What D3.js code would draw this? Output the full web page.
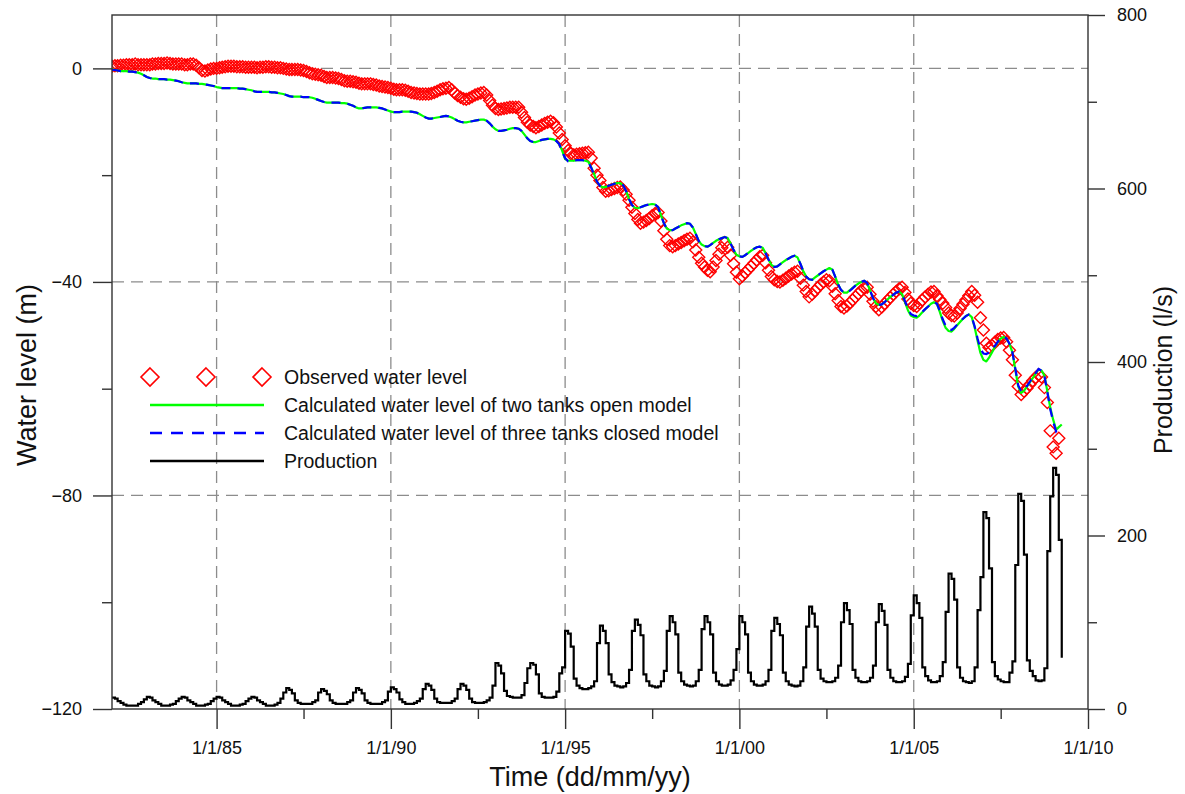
<!DOCTYPE html>
<html>
<head>
<meta charset="utf-8">
<script src="https://cdn.jsdelivr.net/npm/d3@7"></script>
<style>
  body { margin: 0; background: #fff; }
  svg { display: block; }
  text { font-family: "Liberation Sans", Arial, sans-serif; fill: #111; }
</style>
</head>
<body>
<svg id="chart" width="1185" height="794"></svg>
<script>
// Monthly records, first value = January 1982
const firstYear = 1982;

// Observed water level (m), monthly
const observedLevel = [
  0.4, 0.5, 0.5, 0.6, 0.6, 0.7, 0.7, 0.7, 0.8, 0.7, 0.7, 0.7,            // 1982
  0.7, 0.7, 0.8, 0.8, 0.9, 0.9, 0.9, 1.0, 0.9, 0.8, 0.8, 0.8,            // 1983
  0.8, 0.7, 0.7, 0.8, 0.8, 0.6, 0.1, -0.4, -0.5, -0.3, -0.1, 0.0,        // 1984
  0.0, 0.1, 0.2, 0.3, 0.4, 0.4, 0.4, 0.3, 0.3, 0.3, 0.2, 0.2,            // 1985
  0.2, 0.2, 0.1, 0.2, 0.2, 0.3, 0.3, 0.2, 0.2, 0.1, 0.1, 0.0,            // 1986
  -0.1, -0.2, -0.2, -0.2, -0.2, -0.3, -0.4, -0.6, -0.8, -1.0, -1.1, -1.2, // 1987
  -1.3, -1.5, -1.7, -1.7, -1.7, -1.8, -1.9, -2.1, -2.3, -2.4, -2.4, -2.5, // 1988
  -2.6, -2.8, -2.9, -2.9, -2.9, -2.9, -3.0, -3.1, -3.3, -3.4, -3.5, -3.6, // 1989
  -3.7, -3.9, -4.0, -4.0, -4.0, -4.1, -4.3, -4.5, -4.6, -4.7, -4.8, -4.8, // 1990
  -4.8, -4.8, -4.7, -4.5, -4.3, -4.0, -3.8, -3.7, -3.6, -4.0, -4.6, -5.1, // 1991
  -5.4, -5.7, -5.8, -5.6, -5.3, -5.0, -4.8, -4.6, -4.5, -5.0, -6.0, -6.9, // 1992
  -7.5, -7.7, -7.6, -7.5, -7.4, -7.3, -7.3, -7.3, -7.3, -8.2, -9.2, -10.1, // 1993
  -10.6, -10.9, -11.1, -10.9, -10.6, -10.3, -10.1, -9.9, -10.2, -11.0, -12.1, -13.3, // 1994
  -14.5, -15.4, -16.0, -16.2, -16.1, -16.0, -15.9, -15.8, -15.7, -16.8, -18.7, -20.0, // 1995
  -21.0, -22.3, -23.0, -22.9, -22.7, -22.5, -22.3, -22.2, -22.8, -23.6, -24.7, -26.0, // 1996
  -27.2, -28.3, -29.0, -28.8, -28.5, -28.1, -27.6, -27.2, -27.0, -28.6, -30.4, -32.0, // 1997
  -33.2, -33.4, -33.2, -32.9, -32.6, -32.3, -32.0, -31.8, -32.5, -34.0, -35.4, -36.5, // 1998
  -37.2, -37.8, -38.1, -37.2, -36.0, -34.8, -33.6, -32.6, -33.5, -35.0, -36.6, -38.2, // 1999
  -39.4, -38.9, -38.3, -37.7, -37.1, -36.5, -35.9, -35.3, -35.0, -36.4, -37.8, -39.0, // 2000
  -39.6, -39.9, -40.0, -39.7, -39.3, -38.9, -38.5, -38.2, -38.0, -39.3, -40.6, -41.8, // 2001
  -42.8, -42.3, -41.7, -41.1, -40.5, -40.0, -39.6, -39.8, -40.8, -42.2, -43.5, -44.6, // 2002
  -44.9, -44.5, -44.0, -43.4, -42.8, -42.2, -41.6, -41.2, -41.0, -42.3, -43.6, -44.6, // 2003
  -45.2, -44.7, -44.1, -43.5, -42.9, -42.3, -41.8, -41.3, -41.0, -42.0, -43.2, -44.0, // 2004
  -44.4, -44.6, -44.0, -43.4, -42.8, -42.3, -41.9, -41.8, -42.6, -43.3, -44.0, -44.8, // 2005
  -45.8, -46.3, -46.4, -45.8, -45.0, -44.2, -43.4, -42.6, -41.8, -42.5, -43.8, -46.7, // 2006
  -49.0, -51.5, -52.3, -51.9, -51.3, -50.8, -50.5, -50.4, -51.2, -52.8, -54.6, -57.5, // 2007
  -59.6, -61.1, -60.5, -59.9, -59.2, -58.5, -57.9, -57.4, -57.8, -59.8, -62.6, -67.9, // 2008
  -70.9, -72.1, -69.3                                                                 // 2009
];

// Calculated water level, two tanks open model (m), monthly
const twoTankLevel = [
  -0.2, -0.3, -0.4, -0.5, -0.5, -0.5, -0.6, -0.6, -0.7, -0.8, -1.0, -1.3, // 1982
  -1.6, -1.8, -1.9, -1.9, -2.0, -2.0, -2.0, -2.1, -2.1, -2.2, -2.3, -2.4, // 1983
  -2.6, -2.7, -2.8, -2.8, -2.8, -2.8, -2.9, -2.9, -3.0, -3.1, -3.2, -3.3, // 1984
  -3.5, -3.6, -3.7, -3.7, -3.7, -3.7, -3.7, -3.7, -3.8, -3.8, -3.9, -4.0, // 1985
  -4.1, -4.3, -4.4, -4.4, -4.4, -4.4, -4.4, -4.5, -4.5, -4.6, -4.7, -4.8, // 1986
  -5.0, -5.2, -5.3, -5.3, -5.3, -5.3, -5.4, -5.4, -5.4, -5.5, -5.7, -5.9, // 1987
  -6.1, -6.3, -6.4, -6.4, -6.4, -6.4, -6.4, -6.5, -6.5, -6.6, -6.8, -7.0, // 1988
  -7.3, -7.5, -7.5, -7.4, -7.3, -7.3, -7.3, -7.3, -7.4, -7.5, -7.7, -7.9, // 1989
  -8.1, -8.2, -8.2, -8.2, -8.1, -8.1, -8.1, -8.1, -8.2, -8.3, -8.6, -8.9, // 1990
  -9.2, -9.4, -9.4, -9.3, -9.2, -9.1, -9.0, -8.9, -9.0, -9.2, -9.5, -9.8, // 1991
  -10.0, -10.1, -10.1, -10.0, -9.9, -9.8, -9.7, -9.6, -9.6, -9.8, -10.3, -10.9, // 1992
  -11.4, -11.7, -11.7, -11.6, -11.5, -11.3, -11.2, -11.2, -11.3, -11.7, -12.4, -13.1, // 1993
  -13.6, -13.8, -13.8, -13.6, -13.4, -13.3, -13.2, -13.2, -13.3, -13.6, -14.2, -15.4, // 1994
  -17.0, -17.3, -17.3, -17.3, -17.2, -17.2, -17.2, -17.3, -17.5, -18.5, -19.8, -21.2, // 1995
  -22.0, -22.3, -22.2, -22.0, -21.8, -21.6, -21.5, -21.5, -21.9, -23.0, -24.5, -25.6, // 1996
  -26.1, -26.2, -26.0, -25.8, -25.6, -25.5, -25.4, -25.5, -26.0, -27.5, -29.0, -30.0, // 1997
  -30.3, -30.3, -30.0, -29.7, -29.4, -29.2, -29.0, -29.1, -29.8, -31.0, -32.3, -33.0, // 1998
  -33.3, -33.4, -33.1, -32.7, -32.3, -32.0, -31.8, -31.6, -31.8, -32.8, -34.0, -34.9, // 1999
  -35.2, -35.3, -35.0, -34.6, -34.2, -33.8, -33.5, -33.4, -33.6, -34.6, -35.8, -36.8, // 2000
  -37.2, -37.1, -36.7, -36.3, -35.9, -35.6, -35.3, -35.1, -35.4, -36.6, -38.0, -39.0, // 2001
  -39.5, -39.6, -39.2, -38.8, -38.4, -38.0, -37.7, -37.4, -37.7, -39.0, -40.5, -41.5, // 2002
  -42.0, -42.0, -41.6, -41.1, -40.7, -40.3, -40.0, -39.8, -40.2, -41.6, -43.0, -44.0, // 2003
  -44.3, -44.2, -43.8, -43.3, -42.8, -42.4, -42.0, -41.8, -42.3, -43.8, -45.3, -46.3, // 2004
  -46.6, -46.7, -46.3, -45.7, -45.1, -44.6, -44.1, -43.8, -44.1, -45.6, -47.3, -48.6, // 2005
  -49.2, -49.3, -48.8, -48.1, -47.5, -46.9, -46.4, -46.1, -46.6, -48.5, -51.0, -53.3, // 2006
  -54.6, -54.9, -54.2, -53.2, -52.2, -51.3, -50.6, -50.3, -50.6, -51.6, -53.2, -56.4, // 2007
  -59.6, -60.8, -60.4, -59.6, -58.8, -58.0, -57.2, -56.4, -56.6, -57.5, -60.5, -63.5, // 2008
  -65.8, -67.7, -67.2, -66.7                                                          // 2009
];

// Calculated water level, three tanks closed model (m), monthly
const threeTankLevel = [
  -0.3, -0.3, -0.4, -0.5, -0.5, -0.5, -0.6, -0.6, -0.7, -0.8, -1.0, -1.3, // 1982
  -1.6, -1.8, -1.9, -1.9, -2.0, -2.0, -2.0, -2.1, -2.1, -2.2, -2.3, -2.4, // 1983
  -2.6, -2.7, -2.8, -2.8, -2.8, -2.8, -2.9, -2.9, -3.0, -3.1, -3.2, -3.3, // 1984
  -3.5, -3.6, -3.7, -3.7, -3.7, -3.7, -3.7, -3.7, -3.8, -3.8, -3.9, -4.0, // 1985
  -4.1, -4.3, -4.4, -4.4, -4.4, -4.4, -4.4, -4.5, -4.5, -4.6, -4.7, -4.8, // 1986
  -5.0, -5.2, -5.3, -5.3, -5.3, -5.3, -5.4, -5.4, -5.4, -5.5, -5.7, -5.9, // 1987
  -6.1, -6.3, -6.4, -6.4, -6.4, -6.4, -6.4, -6.5, -6.5, -6.6, -6.8, -7.0, // 1988
  -7.3, -7.5, -7.5, -7.4, -7.3, -7.3, -7.3, -7.3, -7.4, -7.5, -7.7, -7.9, // 1989
  -8.1, -8.2, -8.2, -8.2, -8.1, -8.1, -8.1, -8.1, -8.2, -8.3, -8.6, -8.9, // 1990
  -9.2, -9.4, -9.4, -9.3, -9.2, -9.1, -9.0, -8.9, -9.0, -9.2, -9.5, -9.8, // 1991
  -10.0, -10.1, -10.1, -10.0, -9.9, -9.8, -9.7, -9.6, -9.6, -9.8, -10.3, -10.9, // 1992
  -11.4, -11.7, -11.7, -11.6, -11.5, -11.3, -11.2, -11.2, -11.3, -11.7, -12.4, -13.1, // 1993
  -13.6, -13.8, -13.8, -13.6, -13.4, -13.3, -13.2, -13.2, -13.3, -13.6, -14.2, -15.6, // 1994
  -16.8, -17.4, -17.3, -17.3, -17.2, -17.2, -17.2, -17.3, -17.5, -18.6, -19.9, -21.2, // 1995
  -22.0, -22.3, -22.2, -22.0, -21.8, -21.6, -21.5, -21.5, -21.9, -23.0, -24.5, -25.6, // 1996
  -26.1, -26.2, -26.0, -25.8, -25.6, -25.5, -25.4, -25.5, -26.0, -27.5, -29.0, -30.0, // 1997
  -30.3, -30.3, -30.0, -29.7, -29.4, -29.2, -29.0, -29.1, -29.8, -31.0, -32.3, -33.0, // 1998
  -33.3, -33.4, -33.1, -32.7, -32.3, -32.0, -31.8, -31.6, -31.8, -32.8, -34.0, -34.9, // 1999
  -35.2, -35.3, -35.0, -34.6, -34.2, -33.8, -33.5, -33.4, -33.6, -34.6, -35.8, -36.8, // 2000
  -37.2, -37.1, -36.7, -36.3, -35.9, -35.6, -35.3, -35.1, -35.4, -36.6, -38.0, -39.0, // 2001
  -39.5, -39.6, -39.2, -38.8, -38.4, -38.0, -37.7, -37.4, -37.7, -39.0, -40.5, -41.5, // 2002
  -42.0, -42.1, -41.7, -41.2, -40.7, -40.3, -40.0, -39.8, -40.2, -41.6, -43.0, -44.0, // 2003
  -44.3, -44.2, -43.8, -43.3, -42.8, -42.4, -42.0, -41.8, -42.3, -43.6, -45.0, -46.0, // 2004
  -46.3, -46.4, -46.1, -45.6, -45.1, -44.6, -44.1, -43.8, -44.1, -45.4, -47.0, -48.2, // 2005
  -48.8, -49.0, -48.6, -48.0, -47.4, -46.9, -46.4, -46.1, -46.6, -48.3, -50.6, -52.6, // 2006
  -53.4, -53.5, -53.2, -52.6, -52.0, -51.2, -50.6, -50.3, -50.6, -51.6, -53.2, -56.2, // 2007
  -59.4, -60.5, -60.2, -59.5, -58.7, -57.9, -57.1, -56.3, -56.6, -57.6, -60.6, -63.8, // 2008
  -66.2, -68.0, -67.5                                                                 // 2009
];

// Production (l/s), monthly
const production = [
  13, 12, 9, 7, 5, 4, 4, 4, 4, 6, 8, 11,              // 1982
  14, 13, 10, 8, 6, 4, 4, 4, 5, 6, 9, 12,             // 1983
  14, 13, 10, 8, 6, 4, 4, 4, 5, 6, 9, 12,             // 1984
  14, 13, 10, 8, 6, 4, 4, 4, 5, 6, 9, 12,             // 1985
  14, 13, 10, 8, 6, 4, 4, 4, 5, 7, 12, 19,            // 1986
  24, 22, 18, 10, 7, 6, 6, 6, 6, 8, 10, 19,           // 1987
  23, 21, 17, 10, 7, 6, 6, 6, 6, 8, 10, 19,           // 1988
  24, 22, 18, 10, 7, 6, 6, 6, 6, 8, 10, 20,           // 1989
  25, 23, 19, 11, 8, 6, 6, 6, 7, 9, 12, 23,           // 1990
  29, 27, 22, 12, 8, 7, 7, 7, 7, 9, 12, 23,           // 1991
  29, 27, 22, 12, 8, 7, 7, 7, 8, 10, 13, 27,          // 1992
  53, 50, 41, 21, 15, 14, 13, 13, 13, 16, 30, 47,     // 1993
  53, 51, 40, 18, 14, 13, 13, 13, 14, 20, 41, 48,     // 1994
  90, 87, 72, 35, 27, 24, 23, 23, 24, 26, 32, 76,     // 1995
  96, 90, 76, 40, 31, 27, 26, 25, 26, 30, 45, 90,     // 1996
  103, 97, 85, 40, 32, 27, 26, 25, 26, 32, 44, 90,    // 1997
  107, 100, 86, 42, 32, 28, 27, 26, 27, 32, 45, 92,   // 1998
  107, 100, 86, 42, 32, 28, 27, 27, 28, 33, 45, 69,   // 1999
  107, 100, 86, 42, 32, 28, 27, 27, 28, 32, 45, 90,   // 2000
  105, 98, 85, 42, 32, 28, 27, 26, 27, 32, 48, 95,    // 2001
  118, 110, 95, 45, 35, 32, 31, 31, 32, 36, 50, 100,  // 2002
  122, 114, 98, 45, 36, 32, 31, 31, 32, 36, 50, 100,  // 2003
  121, 113, 97, 45, 36, 32, 31, 31, 32, 37, 52, 108,  // 2004
  131, 122, 105, 48, 38, 33, 31, 31, 32, 38, 54, 112, // 2005
  156, 150, 126, 48, 36, 32, 31, 30, 32, 48, 114, 152, // 2006
  227, 220, 162, 54, 38, 34, 32, 31, 31, 42, 55, 166, // 2007
  248, 240, 178, 56, 44, 38, 33, 32, 33, 47, 182, 245, // 2008
  278, 270, 195, 59                                   // 2009
];

const levelTicks = [0, -40, -80, -120];
const levelMinorTicks = [-20, -60, -100];
const levelGrid = [0, -40, -80];
const productionTicks = [0, 200, 400, 600, 800];
const productionMinorTicks = [100, 300, 500, 700];
const legendLabels = [
  "Observed water level",
  "Calculated water level of two tanks open model",
  "Calculated water level of three tanks closed model",
  "Production"
];

// ---- layout ----
const plot = { left: 112, right: 1088, top: 15, bottom: 709 };
const svg = d3.select("#chart");

const monthDate = i => new Date(firstYear, i, 1);

const x = d3.scaleTime()
  .domain([new Date(1982, 0, 1), new Date(2010, 0, 1)])
  .range([plot.left, plot.right]);
const yLevel = d3.scaleLinear().domain([-120, 10]).range([plot.bottom, plot.top]);
const yProd = d3.scaleLinear().domain([0, 800]).range([plot.bottom, plot.top]);

const majorYears = d3.timeYear.every(5).range(new Date(1985, 0, 1), new Date(2010, 0, 2));
const minorYears = majorYears.slice(0, -1).map(d => d3.timeMonth.offset(d, 30));
const gridYears = majorYears.filter(d => d < x.domain()[1]);

// ---- grid ----
const grid = svg.append("g")
  .attr("stroke", "#8c8c8c").attr("stroke-width", 1.3)
  .attr("stroke-dasharray", "12,7").attr("fill", "none");
grid.selectAll("line.h").data(levelGrid).join("line")
  .attr("x1", plot.left).attr("x2", plot.right)
  .attr("y1", d => yLevel(d)).attr("y2", d => yLevel(d));
grid.selectAll("line.v").data(gridYears).join("line")
  .attr("x1", d => x(d)).attr("x2", d => x(d))
  .attr("y1", plot.top).attr("y2", plot.bottom);

// ---- data marks ----
svg.append("clipPath").attr("id", "plotClip").append("rect")
  .attr("x", plot.left).attr("y", plot.top)
  .attr("width", plot.right - plot.left).attr("height", plot.bottom - plot.top);

const marks = svg.append("g").attr("clip-path", "url(#plotClip)");

const diamond = r => `M0,${-r}L${r},0L0,${r}L${-r},0Z`;

marks.append("g")
  .selectAll("path").data(observedLevel).join("path")
  .attr("d", diamond(6))
  .attr("transform", (d, i) => `translate(${x(monthDate(i))},${yLevel(d)})`)
  .attr("fill", "none").attr("stroke", "#ff0000").attr("stroke-width", 1.4);

const levelLine = d3.line()
  .x((d, i) => x(monthDate(i)))
  .y(d => yLevel(d));

marks.append("path").datum(twoTankLevel)
  .attr("d", levelLine)
  .attr("fill", "none").attr("stroke", "#00ff00").attr("stroke-width", 2.2)
  .attr("stroke-linejoin", "round");

marks.append("path").datum(threeTankLevel)
  .attr("d", levelLine)
  .attr("fill", "none").attr("stroke", "#0000ff").attr("stroke-width", 2.2)
  .attr("stroke-dasharray", "9,7");

const prodLine = d3.line()
  .curve(d3.curveStepAfter)
  .x((d, i) => x(monthDate(i)))
  .y(d => yProd(d));

marks.append("path").datum(production)
  .attr("d", prodLine)
  .attr("fill", "none").attr("stroke", "#000").attr("stroke-width", 2.2);

// ---- frame ----
svg.append("rect")
  .attr("x", plot.left).attr("y", plot.top)
  .attr("width", plot.right - plot.left).attr("height", plot.bottom - plot.top)
  .attr("fill", "none").attr("stroke", "#333").attr("stroke-width", 1.4);

// ---- axes ----
const tickFont = "18px";
function styleAxis(g) {
  g.select(".domain").remove();
  g.selectAll(".tick line").attr("stroke", "#333").attr("stroke-width", 1.4);
  g.selectAll(".tick text").attr("fill", "#111").style("font-size", tickFont)
    .style("font-family", '"Liberation Sans", Arial, sans-serif');
}

svg.append("g").attr("transform", `translate(${plot.left},0)`)
  .call(d3.axisLeft(yLevel).tickValues(levelTicks).tickSize(19).tickPadding(11).tickFormat(d3.format("d")))
  .call(styleAxis);
svg.append("g").attr("transform", `translate(${plot.left},0)`)
  .call(d3.axisLeft(yLevel).tickValues(levelMinorTicks).tickSize(10).tickFormat(""))
  .call(styleAxis);

svg.append("g").attr("transform", `translate(${plot.right},0)`)
  .call(d3.axisRight(yProd).tickValues(productionTicks).tickSize(17).tickPadding(12))
  .call(styleAxis);
svg.append("g").attr("transform", `translate(${plot.right},0)`)
  .call(d3.axisRight(yProd).tickValues(productionMinorTicks).tickSize(9).tickFormat(""))
  .call(styleAxis);

svg.append("g").attr("transform", `translate(0,${plot.bottom})`)
  .call(d3.axisBottom(x).tickValues(majorYears).tickSize(20).tickPadding(12)
    .tickFormat(d3.timeFormat("%-m/%-d/%y")))
  .call(styleAxis);
svg.append("g").attr("transform", `translate(0,${plot.bottom})`)
  .call(d3.axisBottom(x).tickValues(minorYears).tickSize(10).tickFormat(""))
  .call(styleAxis);

// ---- axis titles ----
svg.append("text")
  .attr("x", 590).attr("y", 786)
  .attr("text-anchor", "middle").style("font-size", "27px")
  .text("Time (dd/mm/yy)");
svg.append("text")
  .attr("transform", "translate(27,375) rotate(-90)")
  .attr("text-anchor", "middle").attr("dominant-baseline", "central").style("font-size", "27px")
  .text("Water level (m)");
svg.append("text")
  .attr("transform", "translate(1163,370) rotate(-90)")
  .attr("text-anchor", "middle").attr("dominant-baseline", "central").style("font-size", "25px")
  .text("Production (l/s)");

// ---- legend ----
const legend = svg.append("g");
const rowY = i => 377 + i * 28;
const symX0 = 150, symX1 = 264, textX = 284;

legend.selectAll("path.obs").data([150, 206, 262]).join("path")
  .attr("d", diamond(9))
  .attr("transform", d => `translate(${d},${rowY(0)})`)
  .attr("fill", "none").attr("stroke", "#ff0000").attr("stroke-width", 1.6);

const legendLines = [
  { row: 1, color: "#00ff00", dash: null },
  { row: 2, color: "#0000ff", dash: "12,9" },
  { row: 3, color: "#000", dash: null }
];
legend.selectAll("line").data(legendLines).join("line")
  .attr("x1", symX0).attr("x2", symX1)
  .attr("y1", d => rowY(d.row)).attr("y2", d => rowY(d.row))
  .attr("stroke", d => d.color).attr("stroke-width", 2.4)
  .attr("stroke-dasharray", d => d.dash);

legend.selectAll("text").data(legendLabels).join("text")
  .attr("x", textX).attr("y", (d, i) => rowY(i))
  .attr("dominant-baseline", "central").style("font-size", "19.5px")
  .text(d => d);
</script>
</body>
</html>
